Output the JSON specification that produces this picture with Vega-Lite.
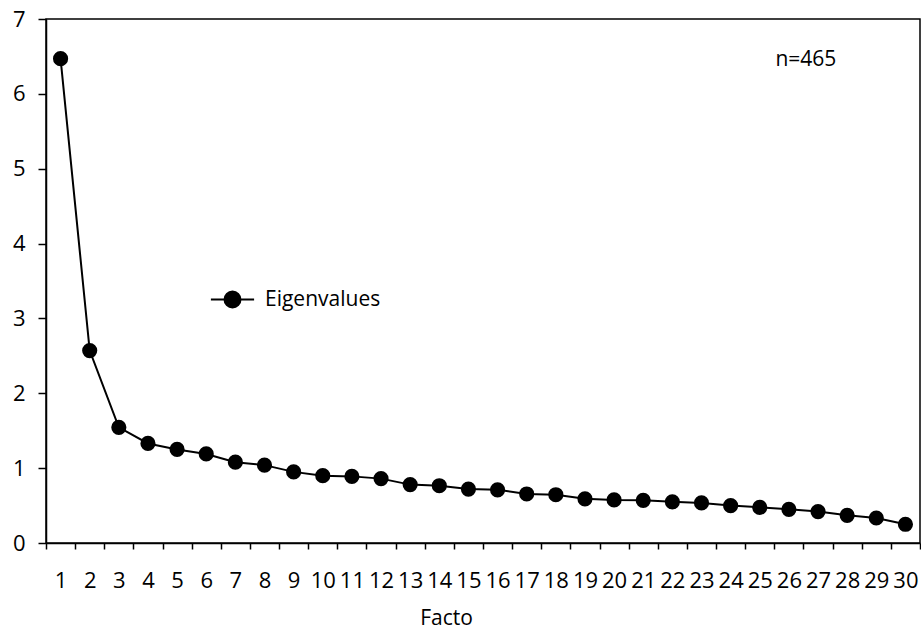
{
  "$schema": "https://vega.github.io/schema/vega-lite/v6.json",
  "width": 874,
  "height": 524,
  "autosize": "none",
  "padding": {"left": 46, "top": 19, "right": 1, "bottom": 87},
  "background": "white",
  "config": {
    "font": "Open Sans",
    "view": {"stroke": "black", "strokeWidth": 1.5},
    "axis": {"labelFont": "Open Sans", "labelFontSize": 22, "labelColor": "black", "titleFont": "Open Sans", "titleFontSize": 21, "titleFontWeight": "normal", "titleColor": "black", "domainColor": "black", "domainWidth": 1.5, "tickColor": "black", "tickWidth": 1.5, "grid": false}
  },
  "data": {"values": [
    {"f": 1, "v": 6.47, "s": "Eigenvalues"},
    {"f": 2, "v": 2.57, "s": "Eigenvalues"},
    {"f": 3, "v": 1.545, "s": "Eigenvalues"},
    {"f": 4, "v": 1.33, "s": "Eigenvalues"},
    {"f": 5, "v": 1.25, "s": "Eigenvalues"},
    {"f": 6, "v": 1.19, "s": "Eigenvalues"},
    {"f": 7, "v": 1.08, "s": "Eigenvalues"},
    {"f": 8, "v": 1.04, "s": "Eigenvalues"},
    {"f": 9, "v": 0.95, "s": "Eigenvalues"},
    {"f": 10, "v": 0.9, "s": "Eigenvalues"},
    {"f": 11, "v": 0.89, "s": "Eigenvalues"},
    {"f": 12, "v": 0.86, "s": "Eigenvalues"},
    {"f": 13, "v": 0.78, "s": "Eigenvalues"},
    {"f": 14, "v": 0.765, "s": "Eigenvalues"},
    {"f": 15, "v": 0.72, "s": "Eigenvalues"},
    {"f": 16, "v": 0.71, "s": "Eigenvalues"},
    {"f": 17, "v": 0.655, "s": "Eigenvalues"},
    {"f": 18, "v": 0.645, "s": "Eigenvalues"},
    {"f": 19, "v": 0.59, "s": "Eigenvalues"},
    {"f": 20, "v": 0.575, "s": "Eigenvalues"},
    {"f": 21, "v": 0.57, "s": "Eigenvalues"},
    {"f": 22, "v": 0.55, "s": "Eigenvalues"},
    {"f": 23, "v": 0.535, "s": "Eigenvalues"},
    {"f": 24, "v": 0.5, "s": "Eigenvalues"},
    {"f": 25, "v": 0.477, "s": "Eigenvalues"},
    {"f": 26, "v": 0.45, "s": "Eigenvalues"},
    {"f": 27, "v": 0.42, "s": "Eigenvalues"},
    {"f": 28, "v": 0.37, "s": "Eigenvalues"},
    {"f": 29, "v": 0.334, "s": "Eigenvalues"},
    {"f": 30, "v": 0.25, "s": "Eigenvalues"}
  ]},
  "encoding": {
    "x": {"field": "f", "type": "ordinal", "sort": "ascending",
      "scale": {"type": "band", "paddingInner": 0, "paddingOuter": 0},
      "axis": {"title": "Facto", "labelAngle": 0, "tickBand": "extent", "tickSize": 6, "labelPadding": 21, "titleX": 400, "titleY": 64, "titleAlign": "center", "titleBaseline": "top"}},
    "y": {"field": "v", "type": "quantitative",
      "scale": {"domain": [0, 7], "nice": false},
      "axis": {"title": null, "values": [0, 1, 2, 3, 4, 5, 6, 7], "tickSize": 8, "labelPadding": 13}}
  },
  "layer": [
    {"mark": {"type": "line", "color": "black", "strokeWidth": 2}},
    {"mark": {"type": "point", "filled": true, "size": 230, "opacity": 1},
      "encoding": {"color": {"field": "s", "type": "nominal", "scale": {"range": ["black"]},
        "legend": {"title": null, "orient": "none", "legendX": 176, "legendY": 270,
          "symbolType": "M-2.7,0H-1M1,0H2.7M-1,0A1,1 0 1,0 1,0A1,1 0 1,0 -1,0Z",
          "symbolSize": 256, "symbolStrokeWidth": 2, "symbolStrokeColor": "black", "symbolFillColor": "black",
          "labelFont": "Open Sans", "labelFontSize": 21, "labelColor": "black", "labelOffset": 22}}}},
    {"mark": {"type": "text", "font": "Open Sans", "fontSize": 21, "color": "black", "dx": 17, "dy": 1},
      "data": {"values": [{"f": 26, "v": 6.46, "t": "n=465"}]},
      "encoding": {"text": {"field": "t"}}}
  ]
}
